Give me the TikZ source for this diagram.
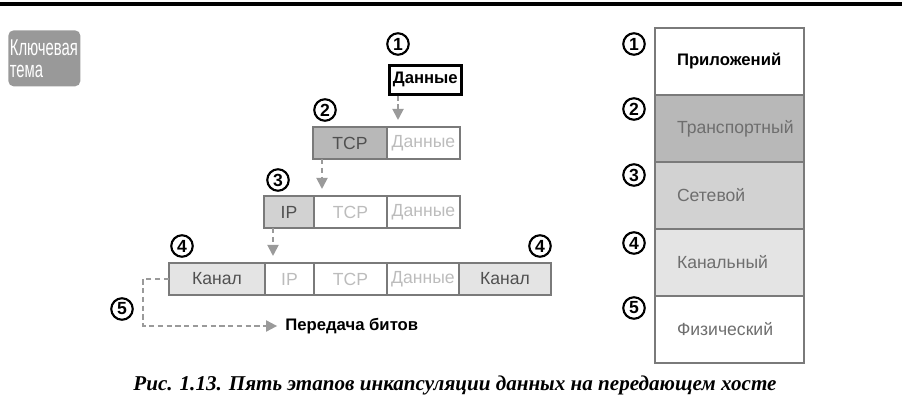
\documentclass[tikz,border=0pt]{standalone}
\usepackage{fontspec}
\setmainfont{Liberation Sans}
\newfontfamily\capfont{Liberation Serif}
\newfontfamily\narrowfont[FakeStretch=0.65]{Liberation Sans}
\usepackage{tikz}
\usetikzlibrary{arrows.meta,positioning,calc}
\definecolor{rama}{HTML}{7A7A7A}
\definecolor{gtcp}{HTML}{B8B8B8}
\definecolor{gip}{HTML}{D2D2D2}
\definecolor{gkan}{HTML}{E4E4E4}
\definecolor{txtdark}{HTML}{505050}
\definecolor{txtlight}{HTML}{BCBCBC}
\definecolor{txtlay}{HTML}{6E6E6E}
\definecolor{strel}{HTML}{9A9A9A}
\tikzset{
  cell/.style={draw=rama,line width=1.1pt,minimum height=0.64cm,inner sep=0pt,
    outer sep=0pt,font=\fontsize{10}{12}\selectfont,text=txtlight},
  datbox/.style={draw=black,line width=1.5pt,minimum width=1.44cm,minimum height=0.58cm,
    inner sep=0pt,fill=white,font=\bfseries\fontsize{9.5}{11}\selectfont},
  num/.style={circle,draw,line width=1.2pt,minimum size=0.43cm,inner sep=0pt,
    font=\bfseries\fontsize{10}{10}\selectfont},
  layer/.style={draw=rama,line width=1.1pt,minimum height=1.34cm,text width=2.1cm,
    inner xsep=0.44cm,inner ysep=0pt,outer sep=0pt,align=left,text=txtlay,
    font=\fontsize{10}{12}\selectfont},
  badge/.style={fill=black!40,rounded corners=3pt,minimum height=1.12cm,text width=1.38cm,
    inner xsep=0.03cm,align=left,text=white,font=\narrowfont\fontsize{13}{12.5}\selectfont},
  arr/.style={strel,line width=1.1pt,dash pattern=on 3pt off 2pt,
    -{Triangle[length=2.2mm,width=2.2mm]}},
}
\begin{document}
\begin{tikzpicture}[x=0.02cm,y=-0.02cm]
  \useasboundingbox (0,0) rectangle (902,418);
  \draw[line width=2.3pt] (0,4) -- (902,4);
  \node[badge,anchor=north west] (kl) at (8,30) {Ключевая\\тема};

  % encapsulation
  \node[datbox,anchor=north west] (dat1) at (388,64) {Данные};
  \node[num] (n1) at (398,44) {1};

  \node[cell,fill=gtcp,text=txtdark,minimum width=1.48cm,anchor=north west] (tcp2) at (313,127) {TCP};
  \node[cell,minimum width=1.46cm,right=0pt of tcp2] (dat2) {Данные};
  \node[num] (n2) at (325,110) {2};

  \node[cell,fill=gip,text=txtdark,minimum width=1.0cm,anchor=north west] (ip3) at (264,196) {IP};
  \node[cell,minimum width=1.46cm,right=0pt of ip3] (tcp3) {TCP};
  \node[cell,minimum width=1.46cm,right=0pt of tcp3] (dat3) {Данные};
  \node[num] (n3) at (278,180) {3};

  \node[cell,fill=gkan,text=txtdark,minimum width=1.92cm,anchor=north west] (kan4) at (169,263) {Канал};
  \node[cell,minimum width=0.98cm,right=0pt of kan4] (ip4) {IP};
  \node[cell,minimum width=1.46cm,right=0pt of ip4] (tcp4) {TCP};
  \node[cell,minimum width=1.44cm,right=0pt of tcp4] (dat4) {Данные};
  \node[cell,fill=gkan,text=txtdark,minimum width=1.84cm,right=0pt of dat4] (kan4b) {Канал};
  \node[num] (n4) at (182,246) {4};
  \node[num] (n4b) at (540,246) {4};

  \node[anchor=west,inner sep=0pt,font=\bfseries\fontsize{9.5}{11}\selectfont] (bits) at (285,326) {Передача битов};
  \node[num] (n5) at (122,309) {5};

  \draw[arr,shorten >=4pt] (n1 |- dat1.south) -- (n1 |- tcp2.north);
  \coordinate (a2) at ($(tcp2.south west)+(9,0)$);
  \draw[arr,shorten >=4pt] (a2) -- (a2 |- ip3.north);
  \coordinate (a3) at ($(ip3.south west)+(9,0)$);
  \draw[arr,shorten >=4pt] (a3) -- (a3 |- kan4.north);
  \draw[arr,shorten >=4.5pt] (kan4.west) -- ++(-26,0) |- (bits.west);

  % layers
  \node[layer,fill=white,text=black,font=\bfseries\fontsize{9.5}{12}\selectfont,anchor=north west] (l1) at (655,28) {Приложений};
  \node[layer,fill=gtcp,below=0pt of l1] (l2) {Транспортный};
  \node[layer,fill=gip,below=0pt of l2] (l3) {Сетевой};
  \node[layer,fill=gkan,below=0pt of l3] (l4) {Канальный};
  \node[layer,fill=white,below=0pt of l4] (l5) {Физический};
  \foreach \i/\y in {1/44,2/109,3/175,4/243,5/308}
    \node[num] (m\i) at (634,\y) {\i};

  \node[font=\capfont\itshape\bfseries\fontsize{12}{14}\selectfont] (cap) at (455,385)
    {Рис. 1.13. Пять этапов инкапсуляции данных на передающем хосте};
\end{tikzpicture}
\end{document}
